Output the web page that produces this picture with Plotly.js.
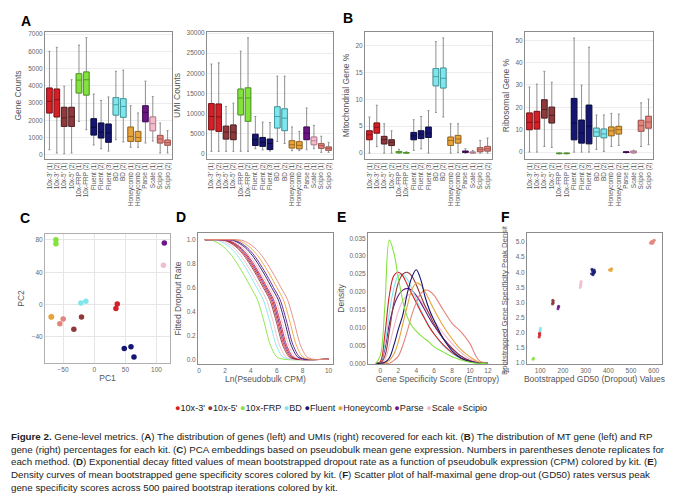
<!DOCTYPE html>
<html><head><meta charset="utf-8">
<script src="https://cdn.plot.ly/plotly-3.0.1.min.js"></script>
<style>html,body{margin:0;padding:0;background:#fff}#chart{width:680px;height:503px}</style>
</head><body><div id="chart"></div>
<script>
// ---------- kits ----------
const kits = ["10x-3'","10x-5'","10x-FRP","BD","Fluent","Honeycomb","Parse","Scale","Scipio"];
const kitColors = ["#d41f26","#8e3a3c","#84e23e","#80e6ec","#151572","#e8a33c","#6c1585","#f2bccd","#e3857c"];
const kitEdges  = ["#7a1015","#4e1c1e","#4a9a1c","#3a9aa2","#08083c","#9a6414","#3c0850","#b87c90","#a0504a"];

// ---------- panel A/B box statistics ----------
const samples = ["10x-3' (1)","10x-3' (2)","10x-5' (1)","10x-5' (2)","10x-FRP (1)","10x-FRP (2)","Fluent (1)","Fluent (2)","Fluent (3)","BD (1)","BD (2)","Honeycomb (1)","Honeycomb (2)","Parse (1)","Scale (1)","Scipio (1)","Scipio (2)"];
const sampleKit = ["10x-3'","10x-3'","10x-5'","10x-5'","10x-FRP","10x-FRP","Fluent","Fluent","Fluent","BD","BD","Honeycomb","Honeycomb","Parse","Scale","Scipio","Scipio"];

const geneLo  = [290,100,60,100,1930,1450,560,350,210,870,740,430,430,680,790,100,100];
const geneQ1  = [2420,2190,1640,1640,3580,3460,1140,970,720,2300,2170,770,770,1910,1390,680,550];
const geneMed = [3100,3190,2130,2200,4330,4350,1590,1300,1260,2900,2800,1060,1000,2460,1800,910,700];
const geneQ3  = [3870,3810,2750,2750,4700,4800,2090,1840,1780,3310,3250,1600,1350,2840,2190,1120,850];
const geneHi  = [6000,6230,3970,4350,6360,6790,3520,3150,3350,4840,4900,2840,2420,4270,3370,1840,1400];

const umiLo  = [660,660,660,660,660,660,1300,1000,740,3100,2600,830,830,1070,1300,410,410];
const umiQ1  = [6000,5600,3700,3550,9700,8100,2100,1900,1100,6450,5800,1500,1300,3550,2300,1400,900];
const umiMed = [9300,9200,5450,5400,13900,13900,3550,2900,2600,9300,8900,2300,2150,5200,3300,2070,1400];
const umiQ3  = [12500,12400,6900,7200,16100,16400,4900,4100,3700,11700,11200,3300,3050,6700,4200,2560,1740];
const umiHi  = [22300,22600,11800,12600,25500,28800,9300,7900,7800,19300,19300,6700,5600,11400,7100,4400,2900];

const mitoLo  = [0,1.2,0,0,0,0,0.5,0.8,0,7.55,6.7,0,0.12,0,0,0,0];
const mitoQ1  = [2.48,3.7,1.7,1.4,0.05,0.02,2.48,2.7,2.9,12.5,12.1,1.42,1.86,0.12,0.02,0.25,0.37];
const mitoMed = [3.4,4.8,2.5,2.0,0.15,0.05,3.2,3.5,3.7,14.2,13.9,2.35,2.6,0.25,0.1,0.62,0.8];
const mitoQ3  = [4.15,5.6,3.1,2.48,0.3,0.1,3.84,4.15,4.83,15.7,15.8,2.97,3.28,0.37,0.2,1.0,1.24];
const mitoHi  = [6.7,8.9,5.45,4.15,0.7,0.25,6.2,6.8,7.9,20.7,21.4,5.45,5.45,0.8,0.5,2.35,2.8];

const riboLo  = [0,0,2.5,2.1,-0.8,-0.8,0,0,0,1.2,0.3,2.5,3.0,-0.4,-0.5,2.5,3.3];
const riboQ1  = [10.0,10.3,15.2,13.0,-0.7,-0.7,5.5,4.0,3.7,7.0,6.4,7.3,8.1,-0.2,-0.3,9.3,10.7];
const riboMed = [13.3,13.4,19.0,16.4,-0.6,-0.6,13.0,8.5,11.5,9.0,8.1,9.5,10.0,0,0.1,11.8,13.4];
const riboQ3  = [17.5,18.2,23.4,20.1,-0.5,-0.5,24.0,14.3,21.0,10.7,10.3,11.2,11.5,0.1,0.4,14.2,16.0];
const riboHi  = [29.1,30.4,36.1,31.2,-0.4,-0.4,51.0,29.9,46.9,16.6,16.6,17.3,17.0,0.3,0.8,22.0,23.7];

// ---------- panel C: PCA ----------
const pcaKit = ["10x-FRP","10x-FRP","Parse","Scale","BD","BD","10x-3'","10x-3'","Honeycomb","Honeycomb","Scipio","Scipio","10x-5'","10x-5'","Fluent","Fluent","Fluent"];
const pcaX = [-61.5,-61.5,112.5,111,-21.4,-13.4,37,34.8,-69.1,-68.6,-49.8,-55.2,-20.4,-32.7,48.2,59,63.8];
const pcaY = [80.4,75.2,76.3,48.7,2.1,4.1,0.8,-4.9,-15.3,-14.9,-17.7,-23.5,-15.3,-30.5,-54.4,-52,-64.7];

// ---------- panel D: dropout curves (x read at dropout levels) ----------
const dropLevels = [1.0,0.995,0.97,0.93,0.87,0.79,0.70,0.60,0.50,0.32,0.12,0.02,0.0,0.0];
const dropKit = ["10x-FRP","BD","Scale","10x-5'","10x-3'","Parse","10x-3'","Scale","Fluent","Parse","Honeycomb","Scipio"];
const dropX = [
  [0.45,1.00,1.50,2.00,2.50,3.00,3.50,4.00,4.50,5.00,5.50,6.00,6.50,10],
  [0.45,1.45,1.95,2.45,2.95,3.45,3.95,4.45,4.95,5.45,5.95,6.45,6.95,10],
  [0.45,1.70,2.20,2.70,3.20,3.70,4.20,4.70,5.20,5.70,6.20,6.70,7.20,10],
  [0.45,1.95,2.45,2.95,3.45,3.95,4.45,4.95,5.45,5.95,6.45,6.95,7.45,10],
  [0.45,2.05,2.55,3.05,3.55,4.05,4.55,5.05,5.55,6.05,6.55,7.05,7.55,10],
  [0.45,2.15,2.65,3.15,3.65,4.15,4.65,5.15,5.65,6.15,6.65,7.15,7.65,10],
  [0.45,2.25,2.75,3.25,3.75,4.25,4.75,5.25,5.75,6.25,6.75,7.25,7.75,10],
  [0.45,2.40,2.90,3.40,3.90,4.40,4.90,5.40,5.90,6.40,6.90,7.40,7.90,10],
  [0.45,2.60,3.10,3.60,4.10,4.60,5.10,5.60,6.10,6.60,7.10,7.60,8.10,10],
  [0.45,2.75,3.25,3.75,4.25,4.75,5.25,5.75,6.25,6.75,7.25,7.75,8.25,10],
  [0.45,3.00,3.50,4.00,4.50,5.00,5.50,6.00,6.50,7.00,7.50,8.00,8.50,10],
  [0.45,3.32,3.82,4.32,4.82,5.32,5.82,6.32,6.82,7.32,7.82,8.32,8.82,10]
];

// ---------- panel E: density curves ----------
const entropyX = [-0.5,0,0.5,1,1.5,2,2.5,3,3.5,4,4.5,5,5.5,6,7,8,9,10,11,12];
const densKit = ["Scale","Parse","BD","10x-5'","10x-3'","Scipio","Honeycomb","Fluent","10x-FRP"];
const densY = [
  [0,0,0.001,0.005,0.010,0.0145,0.0175,0.019,0.0195,0.019,0.0175,0.016,0.014,0.012,0.0085,0.0055,0.003,0.0012,0.0003,0],
  [0,0.0002,0.004,0.011,0.016,0.019,0.0205,0.021,0.0205,0.019,0.017,0.0148,0.0125,0.0105,0.007,0.0042,0.002,0.0007,0.0001,0],
  [0,0.0003,0.005,0.014,0.021,0.0245,0.025,0.0235,0.021,0.018,0.015,0.0125,0.0102,0.0082,0.005,0.0028,0.0012,0.0004,0,0],
  [0,0,0.002,0.009,0.017,0.0225,0.025,0.0255,0.0245,0.022,0.019,0.016,0.0135,0.011,0.007,0.0042,0.002,0.0007,0.0001,0],
  [0,0.0005,0.008,0.019,0.0245,0.0255,0.0245,0.022,0.0195,0.017,0.0145,0.0122,0.010,0.0082,0.0052,0.003,0.0014,0.0005,0.0001,0],
  [0,0,0,0,0.0008,0.002,0.005,0.009,0.0135,0.017,0.0195,0.0205,0.0202,0.019,0.015,0.0112,0.0088,0.0055,0.0008,0],
  [0,0,0,0.0008,0.0025,0.006,0.011,0.016,0.0205,0.0225,0.022,0.02,0.0175,0.015,0.0105,0.0068,0.0038,0.0018,0.0003,0],
  [0,0,0.0003,0.0015,0.005,0.0095,0.0135,0.0195,0.024,0.0262,0.0235,0.0185,0.0148,0.012,0.007,0.0035,0.0015,0.0005,0.0001,0],
  [0,0.0022,0.016,0.0345,0.031,0.024,0.0175,0.013,0.0105,0.009,0.0078,0.0068,0.0058,0.0046,0.0032,0.0018,0.0009,0.0003,0,0]
];

// ---------- panel F: GD50 vs peak ----------
const bootKit = ["10x-FRP","10x-FRP","10x-3'","10x-3'","10x-3'","10x-3'","BD","BD","BD","10x-5'","10x-5'","10x-5'","10x-5'","10x-5'","Parse","Parse","Parse","Scale","Scale","Scale","Scale","Scale","Fluent","Fluent","Fluent","Fluent","Fluent","Fluent","Fluent","Fluent","Honeycomb","Honeycomb","Honeycomb","Honeycomb","Scipio","Scipio","Scipio","Scipio","Scipio","Scipio","Scipio"];
const bootGD50 = [68,70,95,97,96,98,99,101,100,154,156,157,155,156,178,180,181,276,278,279,277,280,326,330,335,338,332,340,328,336,405,410,415,412,585,590,595,600,592,598,603];
const bootPeak = [1.13,1.16,1.86,1.92,1.97,2.0,2.06,2.15,2.1,2.95,3.0,3.05,3.08,2.98,2.8,2.85,2.88,3.5,3.6,3.65,3.55,3.7,3.95,4.05,4.0,4.08,3.92,4.02,4.1,3.97,4.08,4.1,4.12,4.06,4.97,5.02,5.0,5.05,4.95,4.98,5.06];

// ---------- helpers ----------
const W = 680, H = 503;
const fx = p => p / W;
const fy = p => 1 - p / H;
const colorOf = k => kitColors[kits.indexOf(k)];
const edgeOf = k => kitEdges[kits.indexOf(k)];
const FONT = "Liberation Sans, Arial, sans-serif";

const traces = [];

function addBoxes(n, lo, q1, med, q3, hi) {
  kits.forEach((k) => {
    const idx = sampleKit.map((s, i) => s === k ? i : -1).filter(i => i >= 0);
    if (!idx.length) return;
    const xs = idx.map(i => samples[i]);
    const pick = a => idx.map(i => a[i]);
    traces.push({type:'box', xaxis:'x'+n, yaxis:'y'+n, x:xs,
      lowerfence:pick(lo), q1:pick(q1), median:pick(med), q3:pick(q3), upperfence:pick(hi),
      fillcolor:'rgba(0,0,0,0)', line:{color:'#8f8f8f', width:1}, whiskerwidth:0.35, width:0.76,
      boxpoints:false, showlegend:false, hoverinfo:'skip'});
    traces.push({type:'box', xaxis:'x'+n, yaxis:'y'+n, x:xs,
      lowerfence:pick(q1), q1:pick(q1), median:pick(med), q3:pick(q3), upperfence:pick(q3),
      fillcolor:colorOf(k), line:{color:edgeOf(k), width:0.9}, whiskerwidth:0, width:0.76,
      boxpoints:false, showlegend:false, hoverinfo:'skip'});
  });
}
addBoxes('', geneLo, geneQ1, geneMed, geneQ3, geneHi);
addBoxes(2, umiLo, umiQ1, umiMed, umiQ3, umiHi);
addBoxes(3, mitoLo, mitoQ1, mitoMed, mitoQ3, mitoHi);
addBoxes(4, riboLo, riboQ1, riboMed, riboQ3, riboHi);

// C
kits.forEach(k => {
  const idx = pcaKit.map((s,i)=> s===k ? i : -1).filter(i=>i>=0);
  traces.push({type:'scatter', mode:'markers', xaxis:'x5', yaxis:'y5',
    x: idx.map(i=>pcaX[i]), y: idx.map(i=>pcaY[i]),
    marker:{color:colorOf(k), size:5.5}, showlegend:false, hoverinfo:'skip'});
});
// D
dropX.forEach((xs, j) => {
  traces.push({type:'scatter', mode:'lines', xaxis:'x6', yaxis:'y6', x:xs, y:dropLevels,
    line:{color:colorOf(dropKit[j]), width:1, shape:'spline', smoothing:0.8},
    opacity:0.9, showlegend:false, hoverinfo:'skip'});
});
// E
densY.forEach((ys, j) => {
  traces.push({type:'scatter', mode:'lines', xaxis:'x7', yaxis:'y7', x:entropyX, y:ys,
    line:{color:colorOf(densKit[j]), width:1.1, shape:'spline', smoothing:1},
    showlegend:false, hoverinfo:'skip'});
});
// F
kits.forEach(k => {
  const idx = bootKit.map((s,i)=> s===k ? i : -1).filter(i=>i>=0);
  traces.push({type:'scatter', mode:'markers', xaxis:'x8', yaxis:'y8',
    x: idx.map(i=>bootGD50[i]), y: idx.map(i=>bootPeak[i]),
    marker:{color:colorOf(k), size:3, opacity:0.85}, showlegend:false, hoverinfo:'skip'});
});

// ---------- axes ----------
const tickF = {family:FONT, size:6.5, color:'#666'};
const titleF = {family:FONT, size:8.5, color:'#555'};
function xAx(d0, d1, extra) {
  return Object.assign({domain:[fx(d0), fx(d1)], showline:true, mirror:true, linecolor:'#8c8c8c', linewidth:1,
    ticks:'', tickfont:tickF, showgrid:false, zeroline:false, fixedrange:true}, extra);
}
function yAx(d0, d1, extra) {
  return Object.assign({domain:[fy(d1), fy(d0)], showline:true, mirror:true, linecolor:'#8c8c8c', linewidth:1,
    ticks:'', tickfont:tickF, showgrid:false, zeroline:false, fixedrange:true}, extra);
}
const catX = {type:'category', categoryorder:'array', categoryarray:samples, tickangle:-90,
  tickmode:'array', tickvals:samples, ticktext:samples,
  tickfont:{family:FONT, size:6.4, color:'#555'}, range:[-0.6, samples.length-0.4]};
const gridY = {showgrid:true, gridcolor:'#ececec', gridwidth:1};

const layout = {
  width:W, height:H, margin:{l:0,r:0,t:0,b:0}, paper_bgcolor:'#fff', plot_bgcolor:'#fff',
  showlegend:false, font:{family:FONT, color:'#555'},
  xaxis:  xAx(45,172, Object.assign({anchor:'y'}, catX)),
  yaxis:  yAx(32,159, Object.assign({anchor:'x', range:[-250,7120], dtick:1000, tickformat:'d',
           title:{text:'Gene Counts', font:titleF, standoff:5}}, gridY)),
  xaxis2: xAx(207,333, Object.assign({anchor:'y2'}, catX)),
  yaxis2: yAx(32,159, Object.assign({anchor:'x2', range:[-1240,30250], dtick:5000, tickformat:'d',
           title:{text:'UMI Counts', font:titleF, standoff:4}}, gridY)),
  xaxis3: xAx(365,492, Object.assign({anchor:'y3'}, catX)),
  yaxis3: yAx(32,159, Object.assign({anchor:'x3', range:[-1.1,22.5], dtick:5,
           title:{text:'Mitochondrial Gene %', font:titleF, standoff:4}}, gridY)),
  xaxis4: xAx(525,653, Object.assign({anchor:'y4'}, catX)),
  yaxis4: yAx(32,159, Object.assign({anchor:'x4', range:[-3.1,53.7], dtick:10,
           title:{text:'Ribosomal Gene %', font:titleF, standoff:4}}, gridY)),
  xaxis5: xAx(45,170, {anchor:'y5', range:[-79,121.6], tickvals:[-50,0,50,100], showgrid:true, gridcolor:'#e6e6e6', linecolor:'#b0b0b0',
           title:{text:'PC1', font:titleF, standoff:3}}),
  yaxis5: yAx(234,363, {anchor:'x5', range:[-72.2,87.4], tickvals:[-40,0,40,80], showgrid:true, gridcolor:'#e6e6e6', linecolor:'#b0b0b0',
           title:{text:'PC2', font:titleF, standoff:5}}),
  xaxis6: xAx(198,333, {anchor:'y6', range:[-0.08,10.34], dtick:2,
           title:{text:'Ln(Pseudobulk CPM)', font:titleF, standoff:3}}),
  yaxis6: yAx(233,364, {anchor:'x6', range:[-0.04,1.056], dtick:0.2, tickformat:'.1f',
           title:{text:'Fitted Dropout Rate', font:titleF, standoff:3}}),
  xaxis7: xAx(368,507, {anchor:'y7', range:[-1.38,14.13], dtick:2,
           title:{text:'Gene Specificity Score (Entropy)', font:titleF, standoff:3}}),
  yaxis7: yAx(233,364, {anchor:'x7', range:[-0.0002,0.0365], dtick:0.005, tickformat:'.3f',
           title:{text:'Density', font:titleF, standoff:3}}),
  xaxis8: xAx(527,662, {anchor:'y8', range:[41.5,636.6], dtick:100,
           title:{text:'Bootstrapped GD50 (Dropout) Values', font:titleF, standoff:3}}),
  yaxis8: yAx(233,364, {anchor:'x8', range:[0.97,5.3], dtick:0.5, tickformat:'.1f',
           title:{text:'Bootstrapped Gene Specificity Peak Density', font:{family:FONT, size:7.8, color:'#555'}, standoff:6}}),
  annotations: []
};

// panel letters
const letters = [['A',26,21],['B',348,18],['C',25,218],['D',181,217],['E',341,217],['F',505,217]];
letters.forEach(([t,x,y]) => layout.annotations.push({text:'<b>'+t+'</b>', xref:'paper', yref:'paper',
  x:fx(x), y:fy(y), xanchor:'center', yanchor:'middle', showarrow:false, bgcolor:'#fff', font:{family:FONT, size:14, color:'#000'}}));

// legend
const legendText = kits.map((k,i)=>'<span style="color:'+kitColors[i]+'">●</span>'+k).join(' ');
layout.annotations.push({text:legendText, xref:'paper', yref:'paper', x:fx(331), y:fy(408),
  xanchor:'center', yanchor:'middle', showarrow:false, font:{family:FONT, size:9.1, color:'#222'}});

// caption
const caption = [
  "<b>Figure 2.</b> Gene-level metrics. (<b>A</b>) The distribution of genes (left) and UMIs (right) recovered for each kit. (<b>B</b>) The distribution of MT gene (left) and RP",
  "gene (right) percentages for each kit. (<b>C</b>) PCA embeddings based on pseudobulk mean gene expression. Numbers in parentheses denote replicates for",
  "each method. (<b>D</b>) Exponential decay fitted values of mean bootstrapped dropout rate as a function of pseudobulk expression (CPM) colored by kit. (<b>E</b>)",
  "Density curves of mean bootstrapped gene specificity scores colored by kit. (<b>F</b>) Scatter plot of half-maximal gene drop-out (GD50) rates versus peak",
  "gene specificity scores across 500 paired bootstrap iterations colored by kit."
];
const capY = [436,449,461,474,487];
caption.forEach((t,i) => layout.annotations.push({text:t, xref:'paper', yref:'paper', x:fx(9), y:fy(capY[i]),
  xanchor:'left', yanchor:'middle', showarrow:false, font:{family:FONT, size:9.75, color:'#222'}}));

Plotly.newPlot('chart', traces, layout, {displayModeBar:false, staticPlot:true});
</script>
</body></html>
